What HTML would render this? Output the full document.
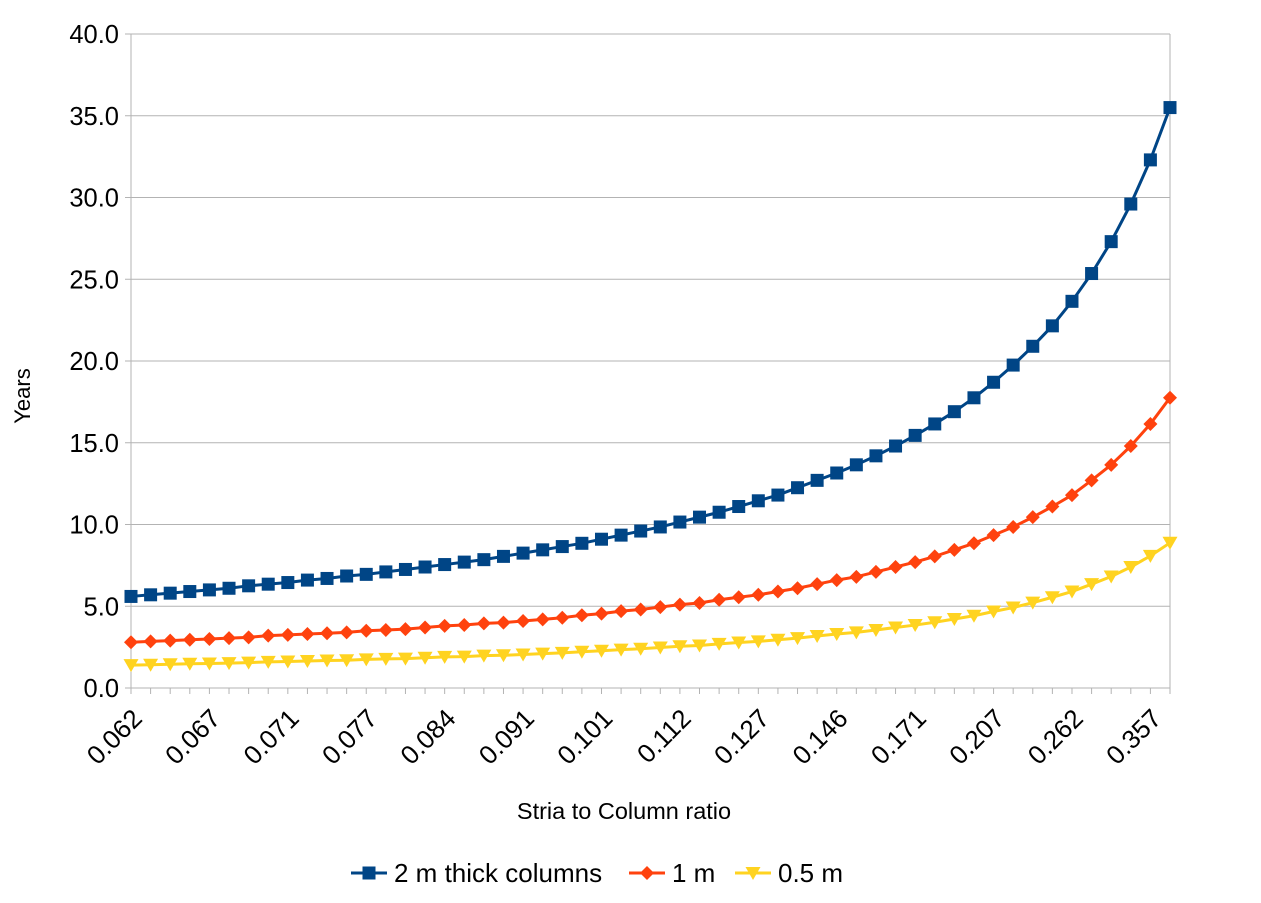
<!DOCTYPE html>
<html><head><meta charset="utf-8"><style>
html,body{margin:0;padding:0;background:#fff;}
svg{display:block;font-family:"Liberation Sans",Arial,sans-serif;}
</style></head><body>
<svg id="chart" width="1261" height="903" viewBox="0 0 1261 903" xmlns="http://www.w3.org/2000/svg">
<rect width="1261" height="903" fill="#fff"/>
<g id="grid"></g><g id="axes"></g><g id="series"></g><g id="legend"></g>
</svg>
<script>
const tickLabels = ["0.062","0.067","0.071","0.077","0.084","0.091","0.101","0.112","0.127","0.146","0.171","0.207","0.262","0.357"];
const yTicks = [0,5,10,15,20,25,30,35,40];
const blue = [5.6,5.7,5.8,5.9,6.0,6.1,6.25,6.35,6.45,6.6,6.7,6.85,6.95,7.1,7.25,7.4,7.55,7.7,7.85,8.05,8.25,8.45,8.65,8.85,9.1,9.35,9.6,9.85,10.15,10.45,10.75,11.1,11.45,11.8,12.25,12.7,13.15,13.65,14.2,14.8,15.45,16.15,16.9,17.75,18.7,19.75,20.9,22.15,23.65,25.35,27.3,29.6,32.3,35.5];
const red = [2.8,2.85,2.9,2.95,3.0,3.05,3.1,3.2,3.25,3.3,3.35,3.4,3.5,3.55,3.6,3.7,3.8,3.85,3.95,4.0,4.1,4.2,4.3,4.45,4.55,4.7,4.8,4.95,5.1,5.2,5.4,5.55,5.7,5.9,6.1,6.35,6.6,6.8,7.1,7.4,7.7,8.05,8.45,8.85,9.35,9.85,10.45,11.1,11.8,12.7,13.65,14.8,16.15,17.75];
const yellow = [1.4,1.42,1.45,1.48,1.5,1.52,1.55,1.6,1.62,1.65,1.68,1.7,1.75,1.78,1.8,1.85,1.9,1.92,1.98,2.0,2.05,2.1,2.15,2.22,2.28,2.35,2.4,2.48,2.55,2.6,2.7,2.78,2.85,2.95,3.05,3.18,3.3,3.4,3.55,3.7,3.85,4.02,4.22,4.42,4.68,4.92,5.22,5.55,5.9,6.35,6.82,7.4,8.08,8.88];
const seriesNames = ["2 m thick columns","1 m","0.5 m"];

const NS="http://www.w3.org/2000/svg";
const L=131,R=1170,T=34,B=688,YMAX=40;
const n=blue.length;
const xs=i=>L+(R-L)*i/(n-1);
const ys=v=>B-(B-T)*v/YMAX;
function mk(tag,attrs,parent){const e=document.createElementNS(NS,tag);for(const k in attrs)e.setAttribute(k,attrs[k]);parent.appendChild(e);return e;}
const grid=document.getElementById('grid'),axes=document.getElementById('axes'),ser=document.getElementById('series'),leg=document.getElementById('legend');

yTicks.forEach(v=>{
  const l=mk('line',{x1:L-6,x2:R,y1:ys(v),y2:ys(v),stroke:'#b3b3b3','stroke-width':1},grid);
  
  
  const t=mk('text',{x:119,y:ys(v)+9,'text-anchor':'end','font-size':25.5,fill:'#000'},axes);
  t.textContent=v.toFixed(1);
  
  
});
const vl=mk('line',{x1:L,x2:L,y1:T,y2:B+6,stroke:'#b3b3b3','stroke-width':1},axes);


const vr=mk('line',{x1:R,x2:R,y1:T,y2:B+6,stroke:'#b3b3b3','stroke-width':1},axes);


for(let i=0;i<n;i++){
  const tk=mk('line',{x1:xs(i),x2:xs(i),y1:B,y2:B+6,stroke:'#b3b3b3','stroke-width':1},axes);
  
  
}
tickLabels.forEach((lab,k)=>{
  const i=1+4*k;
  const x=xs(i)-7,y=B+32;
  const t=mk('text',{x:x,y:y,'text-anchor':'end','font-size':26,fill:'#000',transform:`rotate(-45 ${x} ${y})`},axes);
  t.textContent=lab;
  
  
});
const yt=mk('text',{x:30,y:396,'text-anchor':'middle','font-size':22,fill:'#000',transform:'rotate(-90 30 396)'},axes);
yt.textContent='Years';


const xt=mk('text',{x:624,y:819,'text-anchor':'middle','font-size':23.5,fill:'#000'},axes);
xt.textContent='Stria to Column ratio';



function marker(type,x,y,color,parent){
  let e;
  if(type==='sq') e=mk('rect',{x:x-6.5,y:y-6.5,width:13,height:13,fill:color},parent);
  else if(type==='dm') e=mk('polygon',{points:`${x},${y-7} ${x+7},${y} ${x},${y+7} ${x-7},${y}`,fill:color},parent);
  else e=mk('polygon',{points:`${x-7.5},${y-6} ${x+7.5},${y-6} ${x},${y+7}`,fill:color},parent);
  return e;
}
const defs=[[blue,'#004586','sq','series-2m'],[red,'#ff420e','dm','series-1m'],[yellow,'#ffd320','tri','series-0-5m']];
defs.forEach(([data,color,m,name])=>{
  const g=mk('g',{},ser);
  
  
  const pl=mk('polyline',{points:data.map((v,i)=>xs(i)+','+ys(v)).join(' '),fill:'none',stroke:color,'stroke-width':3,'stroke-linejoin':'round'},g);
  
  
  data.forEach((v,i)=>{
    const p=marker(m,xs(i),ys(v),color,g);
    
    
  });
});
const legX=[351,629,735],legY=873;
defs.forEach(([data,color,m,name],k)=>{
  const g=mk('g',{},leg);
  
  
  const x=legX[k];
  mk('line',{x1:x,x2:x+36,y1:legY,y2:legY,stroke:color,'stroke-width':3},g);
  marker(m,x+18,legY,color,g);
  const t=mk('text',{x:x+43,y:legY+9,'font-size':26,fill:'#000'},g);
  t.textContent=seriesNames[k];
});
</script>
</body></html>
